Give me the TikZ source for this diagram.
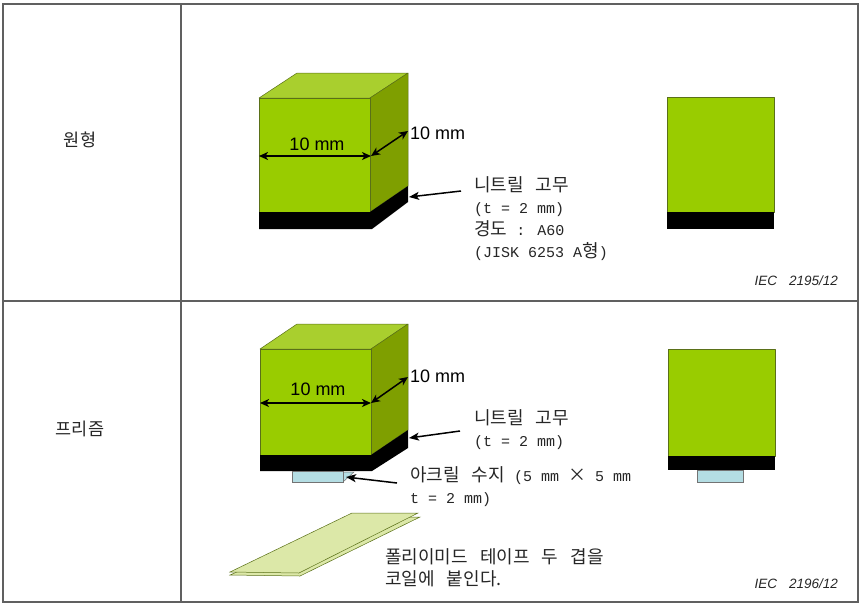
\documentclass[tikz,border=0pt]{standalone}
\usepackage{fontspec}
\usetikzlibrary{arrows.meta}
\setmainfont{Liberation Mono}
\newfontfamily\cjk[WordSpace=3]{Noto Sans CJK KR}
\newfontfamily\arialfont{Liberation Sans}
\newcommand{\kor}[1]{{\cjk\fontsize{18}{22}\selectfont #1}}
\definecolor{cubefront}{HTML}{99CC00}
\definecolor{cubeside}{HTML}{7F9F00}
\definecolor{cubetop}{HTML}{A9CF2E}
\definecolor{cubeline}{HTML}{5A7018}
\definecolor{acrylic}{HTML}{B4DDE3}
\definecolor{tapefill}{HTML}{DCE8A8}
\definecolor{frameline}{HTML}{606060}
\tikzset{
    face/.style={draw=cubeline, line width=0.5pt, line join=round},
    dim/.style={{Stealth[length=9pt,width=8pt,inset=2.5pt]}-{Stealth[length=9pt,width=8pt,inset=2.5pt]}, line width=1.5pt, black},
    pointer/.style={-{Stealth[length=10pt,width=8pt,inset=2.5pt]}, line width=1.5pt, black},
    rowlabel/.style={font=\cjk\fontsize{17.5}{20}\selectfont, text=black!85},
    dimlabel/.style={font=\arialfont\fontsize{18}{20}\selectfont, inner sep=0pt},
    note/.style={font=\fontsize{15}{22}\selectfont, align=left, anchor=north west, inner sep=0pt, text=black!85, execute at begin node={\lineskiplimit=-20pt}},
    ieclabel/.style={font=\arialfont\itshape\fontsize{13.5}{15}\selectfont, inner sep=0pt, text=black!85}
}
\begin{document}
\begin{tikzpicture}[x=1pt, y=-1pt]
    \useasboundingbox (0,0) rectangle (864,606);
    % Table
    \draw[frameline, line width=1.2pt] (3,4) rectangle (858,602);
    \draw[frameline, line width=1.2pt] (181,4) -- (181,602);
    \draw[frameline, line width=1.2pt] (3,301) -- (858,301);
    \node[rowlabel] (roundlabel) at (80,140) {원형};
    \node[rowlabel] (prismlabel) at (80,429) {프리즘};
    % Cube, upper row
    \fill[cubetop, face] (259,98) -- (297,73) -- (408,73) -- (370,98) -- cycle;
    \fill[cubeside, face] (370,98) -- (408,73) -- (408,186) -- (370,212) -- cycle;
    \fill[cubefront, face] (259,98) rectangle (370,212);
    \fill[black] (259,212) -- (370,212) -- (408,186) -- (408,202) -- (372,229) -- (259,229) -- cycle;
    % Dimensions, upper row
    \coordinate (widthleft) at (259,156);
    \coordinate (widthright) at (371,156);
    \coordinate (depthend) at (408,131);
    \draw[dim] (widthleft) -- (widthright);
    \draw[dim] (widthright) -- (depthend);
    \node[dimlabel] (widthlabel) at (317,144) {10 mm};
    \node[dimlabel, anchor=west] (depthlabel) at (410,133) {10 mm};
    % Rubber note, upper row
    \node[note] (rubbernote) at (474,176) {\kor{니트릴 고무}\\(t = 2 mm)\\\kor{경도} : A60\\(JISK 6253 A\kor{형})};
    \coordinate (rubberend) at (409,197);
    \coordinate (rubberstart) at (461,191);
    \draw[pointer] (rubberstart) -- (rubberend);
    % Front view, upper row
    \fill[cubefront, face] (667,97) rectangle (774,212);
    \fill[black] (667,212) rectangle (774,229);
    \node[ieclabel, anchor=east] (iecupper) at (838,281) {IEC\hspace{12pt}2195/12};
    % Cube, lower row
    \fill[cubetop, face] (260,349) -- (297,324) -- (408,324) -- (371,349) -- cycle;
    \fill[cubeside, face] (371,349) -- (408,324) -- (408,430) -- (371,455) -- cycle;
    \fill[cubefront, face] (260,349) rectangle (371,455);
    \fill[black] (260,455) -- (371,455) -- (408,430) -- (408,448) -- (372,471) -- (260,471) -- cycle;
    % Acrylic block
    \fill[acrylic, draw=black!55, line width=0.5pt] (343,472) -- (354,472) -- (343,482) -- cycle;
    \fill[acrylic, draw=black!55, line width=0.5pt] (292,471) rectangle (343,482);
    % Dimensions, lower row
    \coordinate (widthleftb) at (260,403);
    \coordinate (widthrightb) at (371,403);
    \coordinate (depthendb) at (408,377);
    \draw[dim] (widthleftb) -- (widthrightb);
    \draw[dim] (widthrightb) -- (depthendb);
    \node[dimlabel] (widthlabelb) at (318,389) {10 mm};
    \node[dimlabel, anchor=west] (depthlabelb) at (410,376) {10 mm};
    % Notes, lower row
    \node[note] (rubbernoteb) at (474,409) {\kor{니트릴 고무}\\(t = 2 mm)};
    \coordinate (rubberendb) at (409,438);
    \coordinate (rubberstartb) at (460,431);
    \draw[pointer] (rubberstartb) -- (rubberendb);
    \node[note] (acrylicnote) at (410,466) {\kor{아크릴 수지} (5 mm \kor{×} 5 mm\\t = 2 mm)};
    \coordinate (acrylicend) at (346,477);
    \coordinate (acrylicstart) at (397,483);
    \draw[pointer] (acrylicstart) -- (acrylicend);
    % Tape, two layers
    \fill[tapefill, draw=cubeline, line width=0.5pt] (230,575) -- (300,576) -- (420,517) -- (360,517) -- cycle;
    \fill[tapefill, draw=cubeline, line width=0.5pt] (230,572) -- (352,513) -- (418,513) -- (299,573) -- cycle;
    \node[note] (tapenote) at (385,548) {\kor{폴리이미드 테이프 두 겹을}\\\kor{코일에 붙인다.}};
    % Front view, lower row
    \fill[cubefront, face] (668,349) rectangle (775,456);
    \fill[black] (668,456) rectangle (775,470);
    \fill[acrylic, draw=black!55, line width=0.5pt] (697,470) rectangle (743,482);
    \node[ieclabel, anchor=east] (ieclower) at (838,584) {IEC\hspace{12pt}2196/12};
\end{tikzpicture}
\end{document}
